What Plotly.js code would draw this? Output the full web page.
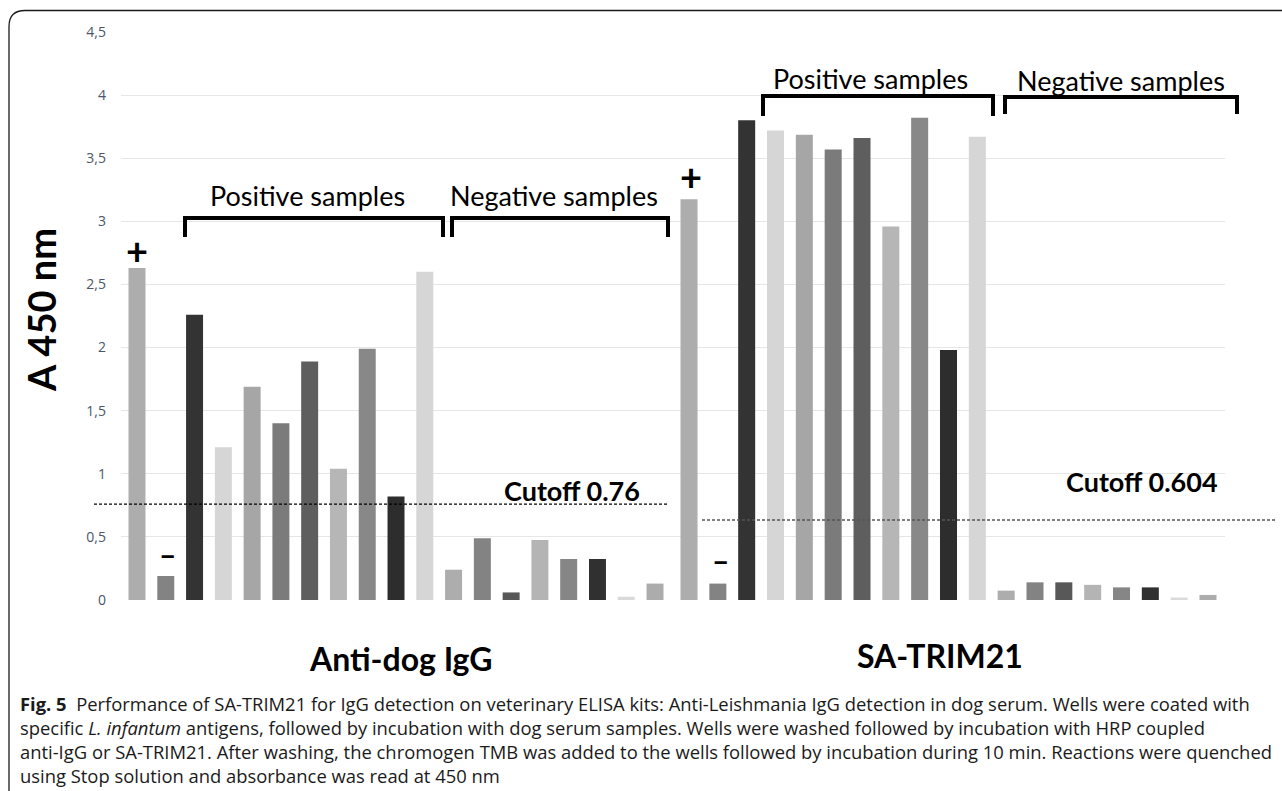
<!DOCTYPE html>
<html>
<head>
<meta charset="utf-8">
<script src="https://cdn.plot.ly/plotly-3.0.1.min.js"></script>
<style>
html,body{margin:0;padding:0;background:#fff;}
#chart{width:1282px;height:791px;}
</style>
</head>
<body>
<div id="chart"></div>
<script>
// ---- data ----
const categories = ['+', '−', 'P1', 'P2', 'P3', 'P4', 'P5', 'P6', 'P7', 'P8', 'P9',
                    'N1', 'N2', 'N3', 'N4', 'N5', 'N6', 'N7', 'N8'];
const antiDogIgG = [2.63, 0.19, 2.26, 1.21, 1.69, 1.40, 1.89, 1.04, 1.99, 0.82, 2.60,
                    0.24, 0.49, 0.06, 0.475, 0.325, 0.325, 0.026, 0.13];
const saTrim21   = [3.175, 0.13, 3.80, 3.72, 3.685, 3.57, 3.66, 2.96, 3.82, 1.98, 3.67,
                    0.074, 0.14, 0.14, 0.12, 0.10, 0.10, 0.02, 0.04];
const cutoffAntiDog = 0.76;   // drawn position of the left dotted line
const cutoffTrim    = 0.634;  // drawn position of the right dotted line
const cutoffLabels  = ['Cutoff 0.76', 'Cutoff 0.604'];
const groupLabels   = ['Anti-dog IgG', 'SA-TRIM21'];
const yTickVals  = [0, 0.5, 1, 1.5, 2, 2.5, 3, 3.5, 4, 4.5];
const captionLines = [
  '<b>Fig. 5</b>  Performance of SA-TRIM21 for IgG detection on veterinary ELISA kits: Anti-Leishmania IgG detection in dog serum. Wells were coated with',
  'specific <i>L. infantum</i> antigens, followed by incubation with dog serum samples. Wells were washed followed by incubation with HRP coupled',
  'anti-IgG or SA-TRIM21. After washing, the chromogen TMB was added to the wells followed by incubation during 10 min. Reactions were quenched',
  'using Stop solution and absorbance was read at 450 nm'
];

// ---- styles ----
const barColors = ['#adadad','#838383','#333333','#d6d6d6','#a6a6a6','#7b7b7b','#5e5e5e','#b6b6b6','#888888','#2d2d2d','#d6d6d6',
                   '#adadad','#838383','#585858','#b4b4b4','#868686','#303030','#dadada','#acacac'];

const W = 1282, H = 791;
const L = 121, R = 1225, T = 32, B = 600;
const px = x => (x - L) / (R - L);
const py = y => (B - y) / (B - T);
const split = px(672);

const traces = [
  {type:'bar', x:categories, y:antiDogIgG, xaxis:'x', yaxis:'y', width:0.59,
   marker:{color:barColors, line:{width:0}}, hoverinfo:'y', showlegend:false},
  {type:'bar', x:categories, y:saTrim21, xaxis:'x2', yaxis:'y', width:0.59,
   marker:{color:barColors, line:{width:0}}, hoverinfo:'y', showlegend:false}
];

const lblFont = {family:'Lato, "Open Sans", sans-serif', size:27, color:'#000'};
const boldFont = {family:'Lato, "Open Sans", sans-serif', size:27, color:'#000'};
const capFont = {family:'"Open Sans", Lato, sans-serif', size:18.4, color:'#1a1a1a'};

function ann(text, x, y, font, extra){
  return Object.assign({text:text, xref:'paper', yref:'paper', x:px(x), y:py(y),
    xanchor:'center', yanchor:'middle', showarrow:false, font:font}, extra||{});
}

const annotations = [
  ann('<b>+</b>', 137, 250, {family:'Lato, sans-serif', size:38, color:'#000'}),
  ann('<b>–</b>', 167, 554, {family:'Lato, sans-serif', size:30, color:'#000'}),
  ann('<b>+</b>', 691, 176, {family:'Lato, sans-serif', size:38, color:'#000'}),
  ann('<b>–</b>', 720, 560, {family:'Lato, sans-serif', size:30, color:'#000'}),
  ann('Positive samples', 307, 195, lblFont),
  ann('Negative samples', 554, 195, lblFont),
  ann('Positive samples', 870, 78, lblFont),
  ann('Negative samples', 1121, 80, lblFont),
  ann('<b>' + cutoffLabels[0] + '</b>', 572, 490, boldFont),
  ann('<b>' + cutoffLabels[1] + '</b>', 1142, 481, boldFont),
  ann('<b>' + groupLabels[0] + '</b>', 401, 658, {family:'Lato, sans-serif', size:32, color:'#000'}),
  ann('<b>' + groupLabels[1] + '</b>', 940, 655, {family:'Lato, sans-serif', size:32, color:'#000'}),
  ann(captionLines.join('<br>'), 18, 740, capFont, {xanchor:'left', align:'left'})
];

function bracket(x0, x1, yTop, yBot){
  return {type:'path', xref:'paper', yref:'paper', layer:'above',
    path:'M '+px(x0)+','+py(yBot)+' L '+px(x0)+','+py(yTop)+' L '+px(x1)+','+py(yTop)+' L '+px(x1)+','+py(yBot),
    line:{color:'#000', width:4}};
}

// rounded frame (top-left corner)
const rr = 16, fx = 9, fy = 10.5;
const framePath = 'M '+px(fx)+','+py(H+2)+' L '+px(fx)+','+py(fy+rr)+
  ' Q '+px(fx)+','+py(fy)+' '+px(fx+rr)+','+py(fy)+' L '+px(W+2)+','+py(fy);

const shapes = [
  {type:'path', xref:'paper', yref:'paper', path:framePath, line:{color:'#1a1a1a', width:1.3}},
  bracket(185, 443, 218, 237),
  bracket(452, 668, 218, 237),
  bracket(763, 993, 96, 116),
  bracket(1005, 1237, 97, 114),
  {type:'line', xref:'paper', yref:'y', x0:px(94), x1:px(668), y0:cutoffAntiDog, y1:cutoffAntiDog,
   line:{color:'#000', width:1.2, dash:'3px,2px'}, layer:'above'},
  {type:'line', xref:'paper', yref:'y', x0:px(702), x1:px(1275), y0:cutoffTrim, y1:cutoffTrim,
   line:{color:'#555', width:1.5, dash:'3px,2px'}, layer:'above'}
];

const axX = {showgrid:false, zeroline:false, showticklabels:false, ticks:'', showline:false, fixedrange:true};

const layout = {
  width:W, height:H,
  margin:{l:L, r:W-R, t:T, b:H-B, pad:0},
  paper_bgcolor:'#fff', plot_bgcolor:'#fff',
  separators:', ',
  showlegend:false,
  bargap:0.4,
  xaxis:Object.assign({domain:[0, split], range:[-0.556, 18.59], type:'category'}, axX),
  xaxis2:Object.assign({domain:[split, 1], range:[-0.59, 18.59], type:'category', anchor:'y'}, axX),
  yaxis:{range:[0, 4.5], tickvals:yTickVals, showgrid:true, gridcolor:'#e6e6e6', gridwidth:1,
    zeroline:false, ticks:'', showline:false, ticklabelstandoff:14,
    tickfont:{family:'"Open Sans", sans-serif', size:14, color:'#4b566a'},
    title:{text:''}},
  annotations:annotations,
  shapes:shapes
};

// y-axis title as rotated annotation
layout.annotations.push({text:'<b>A 450 nm</b>', xref:'paper', yref:'paper', x:px(41), y:py(310),
  xanchor:'center', yanchor:'middle', textangle:-90, showarrow:false,
  font:{family:'Lato, sans-serif', size:38, color:'#000'}});

Plotly.newPlot('chart', traces, layout, {displayModeBar:false, staticPlot:true});
</script>
</body>
</html>
